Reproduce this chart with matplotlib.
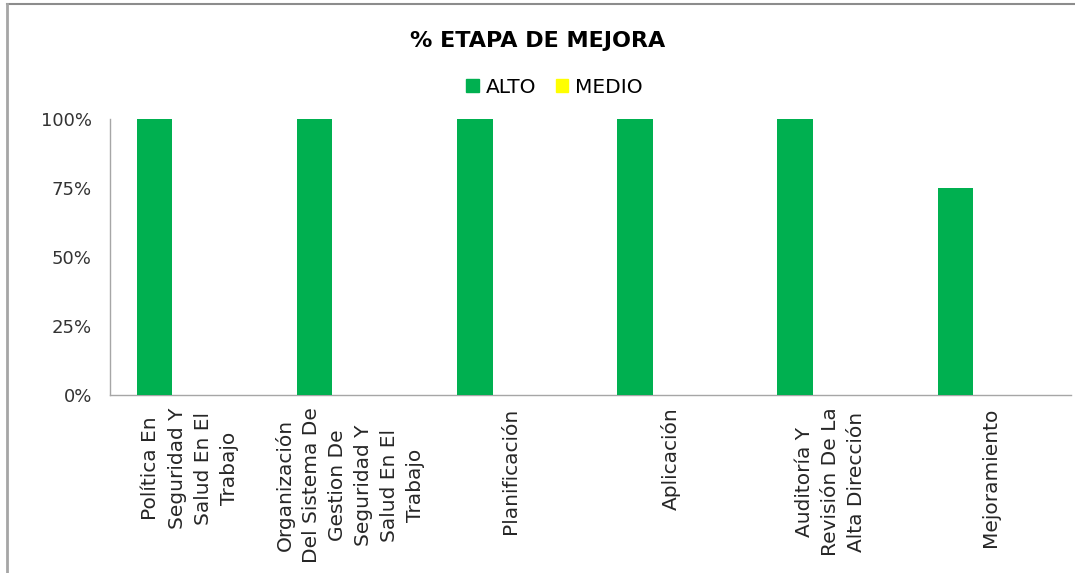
import matplotlib
matplotlib.use("Agg")
import matplotlib.pyplot as plt
import matplotlib.patches as mpatches
from matplotlib.lines import Line2D
from matplotlib.ticker import PercentFormatter
import numpy as np

CATEGORIES = [
    "Política En\nSeguridad Y\nSalud En El\nTrabajo",
    "Organización\nDel Sistema De\nGestion De\nSeguridad Y\nSalud En El\nTrabajo",
    "Planificación",
    "Aplicación",
    "Auditoría Y\nRevisión De La\nAlta Dirección",
    "Mejoramiento",
]
ALTO = [1.00, 1.00, 1.00, 1.00, 1.00, 0.75]
MEDIO = [0.0, 0.0, 0.0, 0.0, 0.0, 0.0]
Y_TICKS = [0, 0.25, 0.5, 0.75, 1.0]

SERIES = [("ALTO", ALTO, "#00b050"), ("MEDIO", MEDIO, "#ffff00")]

plt.rcParams["font.family"] = ["DejaVu Sans"]

fig = plt.figure(figsize=(10.75, 5.73), dpi=100)
fig.patch.set_facecolor("white")
ax = fig.add_axes([0.1023, 0.3106, 0.8940, 0.4817])

# excel-style clustered layout: 3 slots per category, gap 150%
n_slots = 3
bar_w = 1 / (n_slots + 1.5)
x = np.arange(len(CATEGORIES))
for i, (name, vals, color) in enumerate(SERIES):
    offset = (i - (n_slots - 1) / 2) * bar_w
    ax.bar(x + offset, vals, width=bar_w, color=color, label=name, zorder=3)

ax.set_xlim(-0.5, len(CATEGORIES) - 0.5)
ax.set_ylim(0, 1.0)
ax.set_yticks(Y_TICKS)
ax.yaxis.set_major_formatter(PercentFormatter(1.0, decimals=0))
ax.tick_params(axis="y", length=0, labelsize=13, colors="#333333", pad=13)
ax.tick_params(axis="x", length=0)
ax.set_xticks(x)
ax.set_xticklabels([])
for xi, label in zip(x, CATEGORIES):
    ax.text(xi, -0.045, label, rotation=90, ha="center", va="top",
            multialignment="center", fontsize=14.5, color="#262626",
            linespacing=1.47, transform=ax.get_xaxis_transform())

for spine in ("top", "right"):
    ax.spines[spine].set_visible(False)
for spine in ("left", "bottom"):
    ax.spines[spine].set_color("#a6a6a6")
    ax.spines[spine].set_linewidth(1.0)

fig.text(0.5, 0.928, "% ETAPA DE MEJORA", ha="center", va="center",
         fontsize=16, fontweight="heavy", color="black")

handles = [mpatches.Patch(color=c, label=n) for n, _, c in SERIES]
fig.legend(handles=handles, loc="center", bbox_to_anchor=(0.516, 0.848),
           ncol=2, frameon=False, fontsize=14.5, handlelength=0.6,
           handleheight=0.6, handletextpad=0.35, columnspacing=1.0)

# chart frame (top and left edges visible)
fig.add_artist(Line2D([0.0065, 1.0], [0.993, 0.993], color="#8c8c8c", lw=1.5))
fig.add_artist(Line2D([0.0065, 0.0065], [0.0, 0.993], color="#a6a6a6", lw=2))

fig.savefig("out.png", dpi=100, facecolor="white")
